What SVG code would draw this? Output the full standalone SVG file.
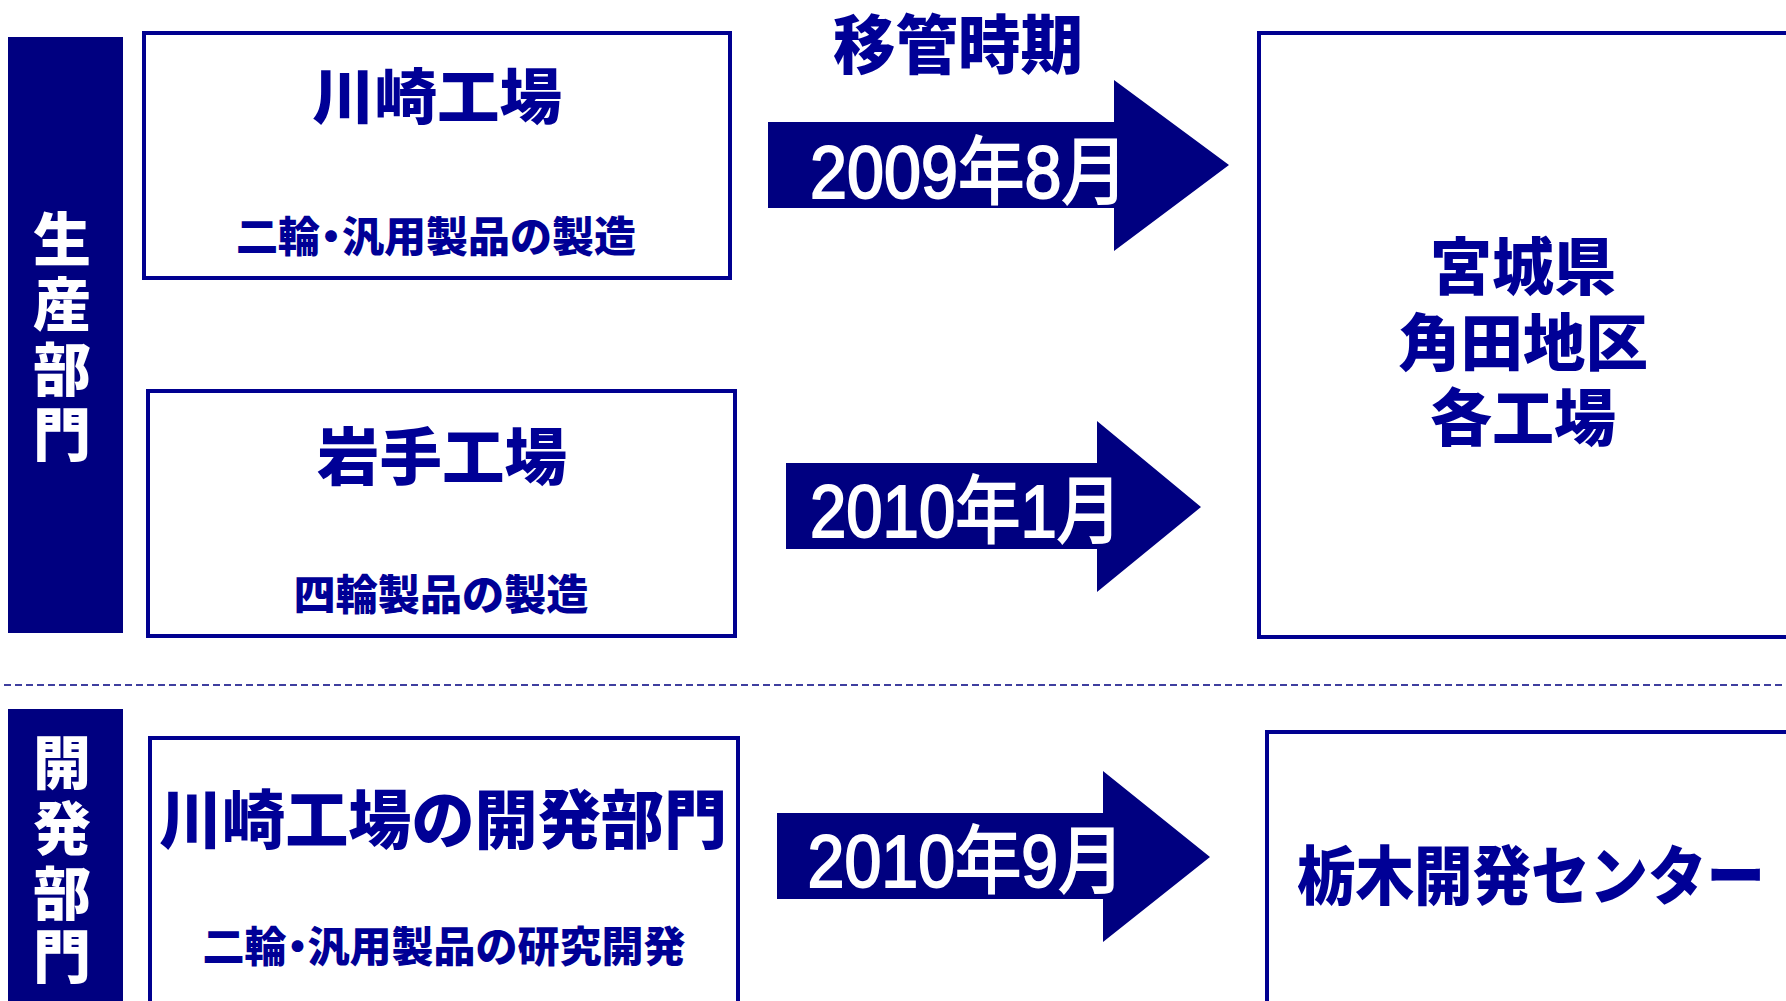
<svg xmlns="http://www.w3.org/2000/svg" width="1786" height="1001" viewBox="0 0 1786 1001">
<defs>
<style>
.box{fill:#fff;stroke:#000090;stroke-width:4}
.bar{fill:#000080}
.arrow{fill:#000080}
.t{font-family:"Noto Sans CJK JP","Noto Sans CJK SC",sans-serif;font-weight:900;fill:#000096;text-anchor:middle}
.w{font-family:"Noto Sans CJK JP","Noto Sans CJK SC",sans-serif;font-weight:900;fill:#fff;text-anchor:middle}
.d{font-family:"Liberation Sans","Noto Sans CJK JP",sans-serif;font-weight:normal;fill:#fff;stroke:#fff;stroke-width:2;text-anchor:middle}
</style>
</defs>
<rect width="1786" height="1001" fill="#fff"/>
<line x1="4" y1="685" x2="1786" y2="685" stroke="#000080" stroke-width="1.6" stroke-dasharray="7,4"/>
<g id="bar-production">
<rect class="bar" x="8" y="37" width="115" height="596"/>
<text class="w" x="62" y="261" font-size="58">生</text>
<text class="w" x="62" y="326" font-size="58">産</text>
<text class="w" x="62" y="391" font-size="58">部</text>
<text class="w" x="62" y="456" font-size="58">門</text>
</g>
<g id="bar-development">
<rect class="bar" x="8" y="709" width="115" height="300"/>
<text class="w" x="62" y="784" font-size="58">開</text>
<text class="w" x="62" y="850" font-size="58">発</text>
<text class="w" x="62" y="915" font-size="58">部</text>
<text class="w" x="62" y="978" font-size="58">門</text>
</g>
<text id="title" class="t" x="958" y="68" font-size="64" textLength="250" lengthAdjust="spacingAndGlyphs">移管時期</text>
<g id="kawasaki">
<rect class="box" x="144" y="33" width="586" height="245"/>
<text class="t" x="437" y="119" font-size="60" textLength="250" lengthAdjust="spacingAndGlyphs">川崎工場</text>
<text class="t" x="436" y="252" font-size="42">二輪<tspan dx="-10">・</tspan><tspan dx="-10">汎用製品の製造</tspan></text>
</g>
<g id="iwate">
<rect class="box" x="148" y="391" width="587" height="245"/>
<text class="t" x="442" y="480" font-size="62" textLength="250" lengthAdjust="spacingAndGlyphs">岩手工場</text>
<text class="t" x="441" y="610" font-size="42" textLength="295" lengthAdjust="spacingAndGlyphs">四輪製品の製造</text>
</g>
<g id="miyagi">
<rect class="box" x="1259" y="33" width="540" height="604"/>
<text class="t" x="1523" y="290" font-size="62">宮城県</text>
<text class="t" x="1523" y="366" font-size="62" textLength="250" lengthAdjust="spacingAndGlyphs">角田地区</text>
<text class="t" x="1523" y="441" font-size="62">各工場</text>
</g>
<g id="kawasaki-dev">
<rect class="box" x="150" y="738" width="588" height="290"/>
<text class="t" x="443" y="843" font-size="64" textLength="568" lengthAdjust="spacingAndGlyphs">川崎工場の開発部門</text>
<text class="t" x="444" y="962" font-size="42">二輪<tspan dx="-10">・</tspan><tspan dx="-11">汎用製品の研究開発</tspan></text>
</g>
<g id="tochigi">
<rect class="box" x="1267" y="732" width="540" height="300"/>
<text class="t" x="1531" y="899" font-size="64" textLength="468" lengthAdjust="spacingAndGlyphs">栃木開発センター</text>
</g>
<g id="connectors">
<polygon class="arrow" points="768,122 1114,122 1114,80 1229,165 1114,251 1114,208 768,208"/>
<text class="d" x="969" y="198" font-size="74" textLength="318" lengthAdjust="spacingAndGlyphs">2009年8月</text>
<polygon class="arrow" points="786,463 1097,463 1097,421 1201,507 1097,592 1097,549 786,549"/>
<text class="d" x="966" y="537" font-size="74" textLength="312" lengthAdjust="spacingAndGlyphs">2010年1月</text>
<polygon class="arrow" points="777,813 1103,813 1103,771 1210,857 1103,942 1103,899 777,899"/>
<text class="d" x="966" y="887" font-size="74" textLength="317" lengthAdjust="spacingAndGlyphs">2010年9月</text>
</g>
</svg>
